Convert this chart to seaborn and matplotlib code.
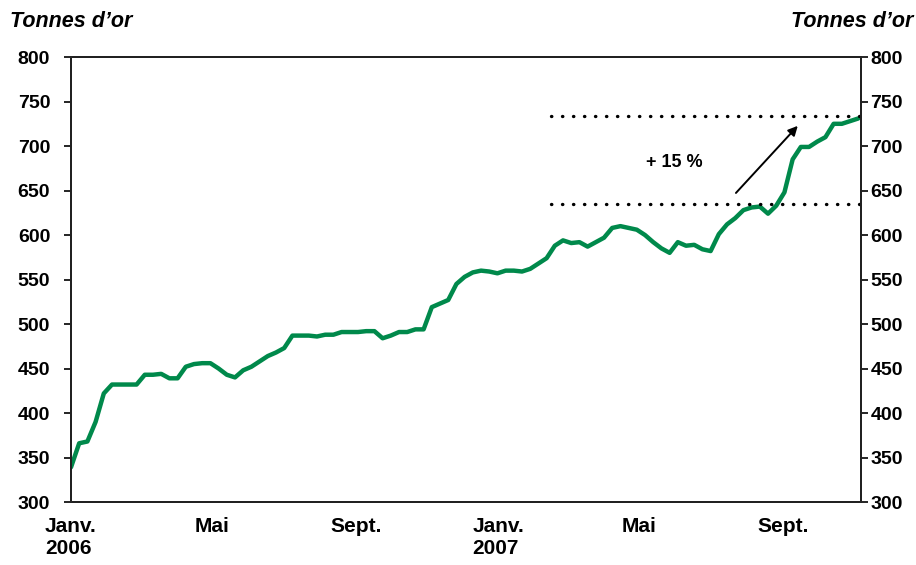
import pandas as pd
import matplotlib.pyplot as plt
import seaborn as sns

# ==========================================
# DATA (weekly)
# ==========================================
START_DATE = "2006-01-01"
gold_tonnes = [
    339, 366, 368, 390, 422, 432, 432, 432, 432, 443,
    443, 444, 439, 439, 452, 455, 456, 456, 450, 443,
    440, 448, 452, 458, 464, 468, 473, 487, 487, 487,
    486, 488, 488, 491, 491, 491, 492, 492, 484, 487,
    491, 491, 494, 494, 519, 523, 527, 545, 553, 558,
    560, 559, 557, 560, 560, 559, 562, 568, 574, 588,
    594, 591, 592, 587, 592, 597, 608, 610, 608, 606,
    600, 592, 585, 580, 592, 588, 589, 584, 582, 601,
    612, 619, 628, 631, 632, 624, 633, 648, 685, 699,
    699, 705, 710, 725, 725, 728, 731,
]
level_low = 635
level_high = 734
level_start = "2007-02-15"
pct_label = "+ 15 %"
y_label = "Tonnes d\u2019or"
y_ticks = [300, 350, 400, 450, 500, 550, 600, 650, 700, 750, 800]
tick_dates = ["2006-01-01", "2006-05-01", "2006-09-01",
              "2007-01-01", "2007-05-01", "2007-09-01"]
tick_labels = ["Janv.\n2006", "Mai", "Sept.", "Janv.\n2007", "Mai", "Sept."]

df = pd.DataFrame({
    "date": pd.date_range(START_DATE, periods=len(gold_tonnes), freq="7D"),
    "tonnes": gold_tonnes,
})

# ==========================================
# PLOT
# ==========================================
sns.set_theme(style="white")
plt.rcParams["font.family"] = ["Liberation Sans", "DejaVu Sans"]
plt.rcParams["text.color"] = "black"
plt.rcParams["xtick.color"] = "black"
plt.rcParams["ytick.color"] = "black"

fig = plt.figure(figsize=(9.16, 5.65), dpi=100)
ax = fig.add_axes([0.0775, 0.1115, 0.862, 0.7875])

sns.lineplot(data=df, x="date", y="tonnes", ax=ax, color="#00894B", linewidth=3.2)

x_end = pd.Timestamp("2007-11-06")
ax.hlines([level_low, level_high], pd.Timestamp(level_start), x_end,
          colors="black", linestyles=(0, (0.1, 3.2)), linewidth=2.4,
          capstyle="round")

ax.annotate("", xy=(pd.Timestamp("2007-09-15"), 725),
            xytext=(pd.Timestamp("2007-07-21"), 645),
            arrowprops=dict(arrowstyle="-|>", color="black", lw=1.4,
                            mutation_scale=14))
ax.text(pd.Timestamp("2007-05-31"), 681, pct_label, ha="center", va="center",
        fontsize=13, fontweight="bold")

ax.set_xlim(pd.Timestamp(START_DATE), x_end)
ax.set_ylim(300, 800)
ax.set_yticks(y_ticks)
ax.set_xticks(pd.to_datetime(tick_dates))
ax.set_xticklabels(tick_labels, multialignment="left")
ax.set_xlabel("")
ax.set_ylabel("")

for side in ["left", "right", "top", "bottom"]:
    ax.spines[side].set_color("black")
    ax.spines[side].set_linewidth(1.4)

# right-hand scale (same values)
ax2 = ax.twinx()
ax2.set_ylim(ax.get_ylim())
ax2.set_yticks(y_ticks)

ax.tick_params(axis="y", left=True, length=5, width=1.2,
               direction="out", labelsize=14, pad=10)
ax2.tick_params(axis="y", right=True, length=5, width=1.2,
                direction="out", labelsize=14, pad=2)
ax.tick_params(axis="x", length=0, labelsize=15, pad=11)
for lbl in ax.get_xticklabels() + ax.get_yticklabels() + ax2.get_yticklabels():
    lbl.set_fontweight("bold")
for lbl in ax.get_xticklabels():
    lbl.set_linespacing(1.15)

fig.text(0.011, 0.962, y_label, fontsize=15.5, fontweight="bold",
         fontstyle="italic", ha="left", va="center")
fig.text(0.997, 0.962, y_label, fontsize=15.5, fontweight="bold",
         fontstyle="italic", ha="right", va="center")

fig.savefig("out.png", dpi=100)
